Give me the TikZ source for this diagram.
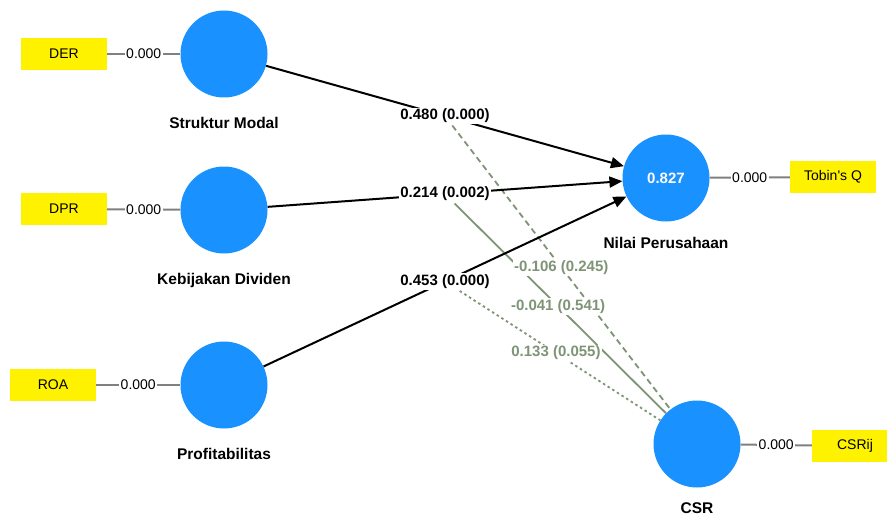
\documentclass[tikz,border=0pt]{standalone}
\usepackage{fontspec}
\setmainfont{Liberation Sans}
\usetikzlibrary{positioning,arrows.meta,backgrounds}
\definecolor{lvblue}{RGB}{25,145,255}
\definecolor{modgray}{RGB}{127,148,118}
\definecolor{linegray}{RGB}{128,128,128}
\tikzset{
  lv/.style={circle, fill=lvblue, minimum size=87pt, inner sep=0pt},
  lvname/.style={font=\fontsize{15.5}{18}\selectfont\bfseries, inner sep=0pt, label distance=19pt},
  ind/.style={fill=yellow, minimum width=86pt, minimum height=32pt, inner sep=0pt, font=\fontsize{14}{17}\selectfont},
  loadline/.style={draw=linegray, line width=2pt},
  loadlbl/.style={fill=white, inner sep=1.5pt, font=\fontsize{14}{17}\selectfont},
  coef/.style={draw=black, line width=2pt, -{Triangle[length=13pt,width=11pt]}},
  coeflbl/.style={fill=white, inner sep=1.5pt, font=\fontsize{15}{18}\selectfont\bfseries},
  modline/.style={draw=modgray, line width=1.8pt},
  modlbl/.style={fill=white, inner sep=1.5pt, text=modgray, font=\fontsize{15}{18}\selectfont\bfseries}
}
\begin{document}
\begin{tikzpicture}[x=1pt,y=-1pt]
       \clip (0,0) rectangle (887,519);
       % latent variables
       \node [lv, label={[lvname]below:Struktur Modal}] (sm) at (224,54) {};
       \node [lv, label={[lvname]below:Kebijakan Dividen}] (kd) at (224,210) {};
       \node [lv, label={[lvname]below:Profitabilitas}] (pr) at (224,385) {};
       \node [lv, text=white, font=\fontsize{15}{18}\selectfont\bfseries,
              label={[lvname,label distance=15pt]below:Nilai Perusahaan}] (np) at (666,178) {0.827};
       \node [lv, label={[lvname,label distance=15pt]below:CSR}] (csr) at (697,444) {};
       % indicators
       \node [ind] (der) at (64,54) {DER};
       \node [ind] (dpr) at (64,209) {DPR};
       \node [ind] (roa) at (53,385) {ROA};
       \node [ind] (tq) at (833,177) {Tobin\textquotesingle s Q};
       \node [ind] (csrij) at (855,446) {CSRij};
       \path [loadline] (der) edge node [loadlbl] {0.000} (sm);
       \path [loadline] (dpr) edge node [loadlbl] {0.000} (kd);
       \path [loadline] (roa) edge node [loadlbl] {0.000} (pr);
       \path [loadline] (np) edge node [loadlbl] {0.000} (tq);
       \path [loadline] (csr) edge node [loadlbl] {0.000} (csrij);
       % direct effects
       \draw [coef] (sm) -- (np) node [coeflbl, pos=.5] (l1) {0.480 (0.000)};
       \draw [coef] (kd) -- (np) node [coeflbl, pos=.5] (l2) {0.214 (0.002)};
       \draw [coef] (pr) -- (np) node [coeflbl, pos=.5] (l3) {0.453 (0.000)};
       % moderation by CSR
       \begin{pgfonlayer}{background}
       \draw [modline, dash pattern=on 6pt off 4pt] (l1) -- (csr);
       \draw [modline] (l2) -- (csr);
       \draw [modline, dash pattern=on 2.5pt off 3pt] (l3) -- (csr);
       \end{pgfonlayer}
       \path (l1) -- (csr) node [modlbl, pos=.5] {-0.106 (0.245)};
       \path (l2) -- (csr) node [modlbl, pos=.49] {-0.041 (0.541)};
       \path (l3) -- (csr) node [modlbl, pos=.48] {0.133 (0.055)};
     \end{tikzpicture}
\end{document}
